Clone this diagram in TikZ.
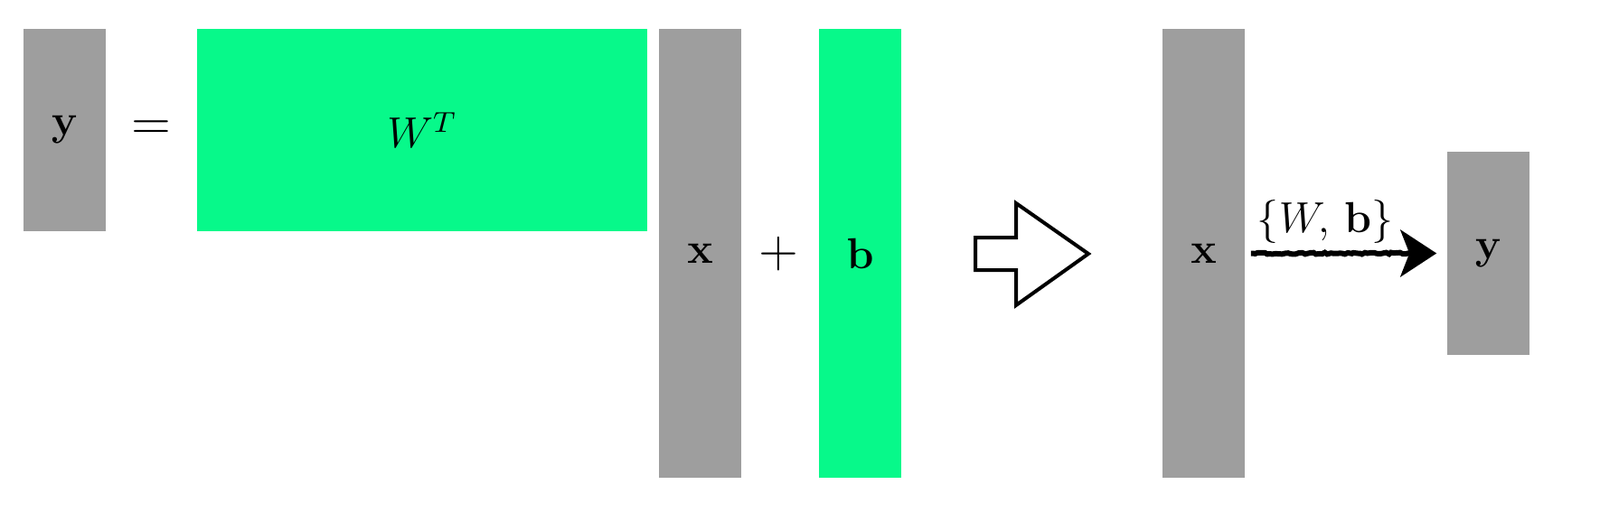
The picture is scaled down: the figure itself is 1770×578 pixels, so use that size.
\documentclass[tikz,border=0pt]{standalone}
\usetikzlibrary{arrows.meta,decorations.pathmorphing}
\definecolor{vecc}{HTML}{9E9E9E}
\definecolor{parc}{HTML}{07F98A}
\tikzset{
  blk/.style={rectangle, inner sep=0pt, minimum width=22.75pt},
  v/.style={blk, fill=vecc},
  p/.style={blk, fill=parc},
  op/.style={font=\Large},
  rough/.style={line width=1.5pt, decorate,
    decoration={random steps, segment length=0.8pt, amplitude=0.25pt,
                pre=lineto, pre length=0.5pt, post=lineto, post length=4pt}},
}

\begin{document}
\begin{tikzpicture}[x=0.25pt, y=-0.25pt, font=\large]
\useasboundingbox (0,0) rectangle (1770,578);

% ---------------- y = W^T x + b ----------------
\node[v, minimum height=56pt] (y) at (71.5,144) {$\mathbf{y}$};
\node[op] (eq) at (167,144) {$=$};
\node[p, minimum width=124.5pt, minimum height=56pt] (w) at (467,144) {$W^T$};
\node[v, minimum height=124.25pt] (x) at (774.5,280.5) {$\mathbf{x}$};
\node[op] (plus) at (861,281) {$+$};
\node[p, minimum height=124.25pt] (b) at (951.5,280.5) {$\mathbf{b}$};

% ---------------- big arrow ----------------
\draw[line width=1pt, fill=white] (1079,263) -- (1124,263) -- (1124,225) -- (1204,281)
  -- (1124,338) -- (1124,299) -- (1079,299) -- cycle;

% ---------------- layer view ----------------
\node[v, minimum height=124.25pt] (x2) at (1331.5,280.5) {$\mathbf{x}$};
\node[v, minimum height=56.25pt] (y2) at (1646.5,280.5) {$\mathbf{y}$};
\draw[rough, -{Stealth[length=10pt, width=13pt, inset=2.5pt]}]
  ([xshift=1.5pt]x2.east) -- node[pos=0.4, above=2pt, inner sep=0pt] {$\{W,\,\mathbf{b}\}$}
  ([xshift=-2.75pt]y2.west);
\end{tikzpicture}
\end{document}
